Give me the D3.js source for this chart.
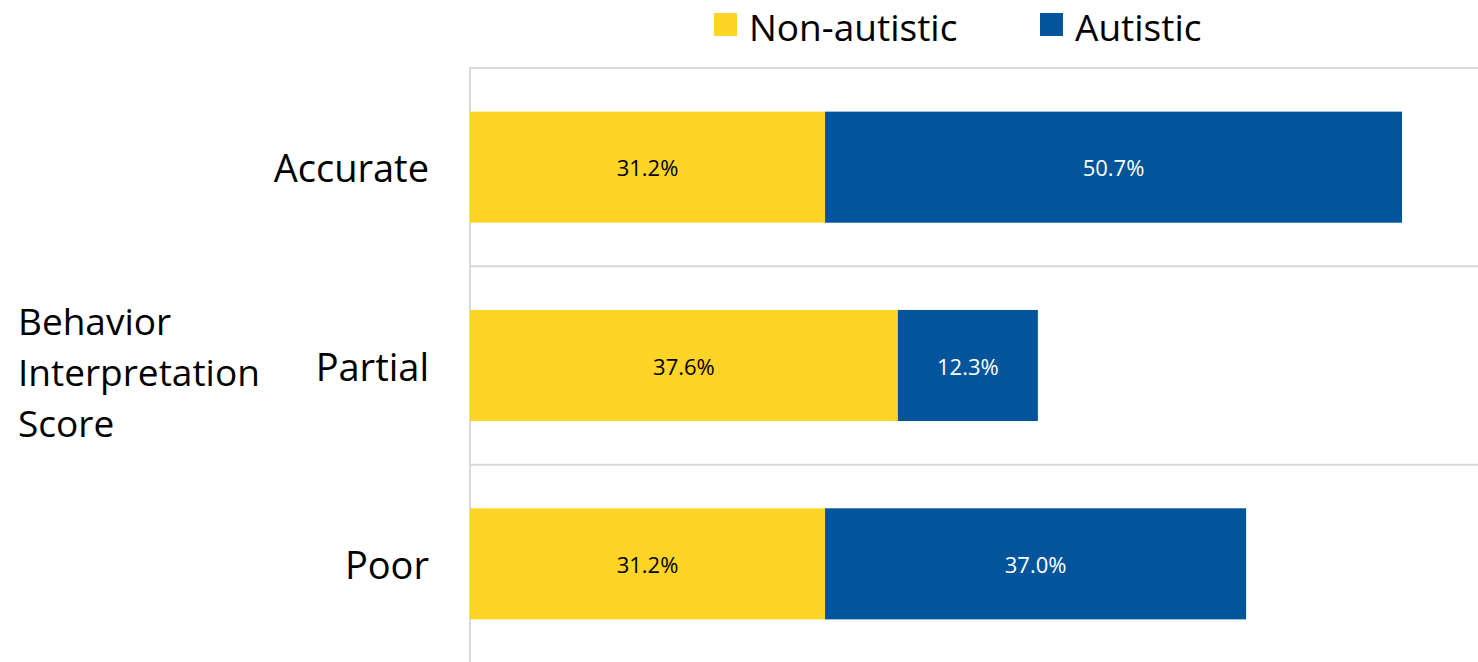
<!DOCTYPE html>
<html><head><meta charset="utf-8">
<script src="https://cdn.jsdelivr.net/npm/d3@7"></script>
<style>
html,body{margin:0;padding:0;background:#fff;overflow:hidden}
svg{display:block;font-family:"Open Sans","Liberation Sans",sans-serif}
</style></head>
<body><svg id="c" width="1478" height="662"></svg>
<script>
const categories = ["Accurate", "Partial", "Poor"];
const seriesNames = ["Non-autistic", "Autistic"];
const nonAutistic = [31.2, 37.6, 31.2];
const autistic = [50.7, 12.3, 37.0];
const axisTitle = ["Behavior", "Interpretation", "Score"];
const colors = ["#FED426", "#02559A"];

const svg = d3.select("#c");
const plotLeft = 470, plotTop = 68, plotBottom = 663;
const x = d3.scaleLinear().domain([0, 90]).range([plotLeft, plotLeft + 90 * 11.38]);
const y = d3.scaleBand().domain(categories).range([plotTop, plotBottom]).paddingInner(0).paddingOuter(0);
const barPad = 0.22;

const bounds = categories.map(c => y(c)).concat([plotBottom]);
svg.append("g").selectAll("line").data(bounds).join("line")
  .attr("x1", plotLeft).attr("x2", 1478).attr("y1", d => d).attr("y2", d => d)
  .attr("stroke", "#d9d9d9").attr("stroke-width", 2);
svg.append("line").attr("x1", plotLeft).attr("x2", plotLeft).attr("y1", plotTop - 1).attr("y2", plotBottom)
  .attr("stroke", "#d9d9d9").attr("stroke-width", 2);

const rows = categories.map((c, i) => ({c, vals: [nonAutistic[i], autistic[i]]}));
const stackData = [];
rows.forEach(r => {
  let acc = 0;
  r.vals.forEach((v, s) => { stackData.push({c: r.c, s, x0: acc, x1: acc + v, v}); acc += v; });
});
const bh = y.bandwidth() * (1 - 2 * barPad);
svg.append("g").selectAll("rect").data(stackData).join("rect")
  .attr("x", d => x(d.x0)).attr("width", d => x(d.x1) - x(d.x0))
  .attr("y", d => y(d.c) + y.bandwidth() / 2 - bh / 2).attr("height", bh)
  .attr("fill", d => colors[d.s]);
svg.append("g").selectAll("text").data(stackData).join("text")
  .attr("x", d => (x(d.x0) + x(d.x1)) / 2).attr("y", d => y(d.c) + y.bandwidth() / 2)
  .attr("text-anchor", "middle").attr("dominant-baseline", "central")
  .attr("font-size", 22).attr("fill", d => d.s === 0 ? "#000" : "#fff")
  .text(d => d.v.toFixed(1) + "%");

svg.append("g").selectAll("text").data(categories).join("text")
  .attr("x", 429).attr("y", d => y(d) + y.bandwidth() / 2)
  .attr("text-anchor", "end").attr("dominant-baseline", "central")
  .attr("font-size", 38).attr("fill", "#000").text(d => d);

svg.append("g").selectAll("text").data(axisTitle).join("text")
  .attr("x", 18).attr("y", (d, i) => 320 + i * 51)
  .attr("dominant-baseline", "central")
  .attr("font-size", 37).attr("fill", "#000").text(d => d);

const legX = [714, 1040];
const lg = svg.append("g").selectAll("g").data(seriesNames).join("g");
lg.append("rect").attr("x", (d, i) => legX[i]).attr("y", 13).attr("width", 23).attr("height", 23)
  .attr("fill", (d, i) => colors[i]);
lg.append("text").attr("x", (d, i) => legX[i] + 35).attr("y", 26)
  .attr("dominant-baseline", "central").attr("font-size", 37).attr("fill", "#000").text(d => d);
</script></body></html>
